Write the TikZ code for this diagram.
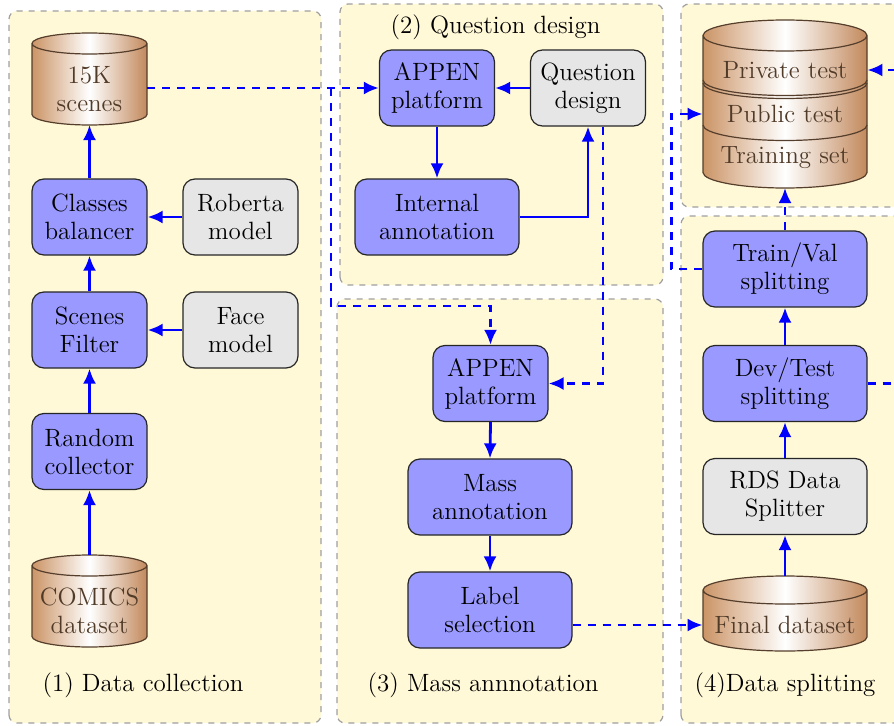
\documentclass[tikz,border=0pt]{standalone}
\usetikzlibrary{arrows.meta,calc}

\definecolor{panelfill}{RGB}{255,249,215}
\definecolor{boxblue}{RGB}{153,153,255}
\definecolor{boxgray}{RGB}{230,230,230}
\definecolor{cylL}{RGB}{203,148,102}
\definecolor{cylR}{RGB}{194,137,92}
\definecolor{cyltextcol}{RGB}{80,58,40}
\definecolor{cylline}{RGB}{85,62,44}

% database drum: centre x, top y, bottom y, half width, ellipse y radius
\newcommand\dbdrum[5]{%
  \shade[left color=cylL,right color=cylR,middle color=white]
    ({#1-#4},{#2-#5}) -- ({#1-#4},{#3+#5})
    arc[start angle=180,end angle=360,x radius=#4,y radius=#5]
    -- ({#1+#4},{#2-#5})
    arc[start angle=0,end angle=180,x radius=#4,y radius=#5] -- cycle;
  \draw[cylline,line width=0.6pt]
    ({#1-#4},{#2-#5}) -- ({#1-#4},{#3+#5})
    arc[start angle=180,end angle=360,x radius=#4,y radius=#5]
    -- ({#1+#4},{#2-#5})
    arc[start angle=0,end angle=180,x radius=#4,y radius=#5]
    arc[start angle=180,end angle=360,x radius=#4,y radius=#5];
}
% front rim of a stacked section
\newcommand\drumrim[4]{% centre x, y, half width, ry
  \draw[cylline,line width=0.6pt] ({#1-#3},#2)
    arc[start angle=180,end angle=360,x radius=#3,y radius=#4];
}

\tikzset{
  panel/.style={draw=gray!75, fill=panelfill, line width=0.6pt,
    dash pattern=on 3pt off 3pt, rounded corners=4pt},
  bluebox/.style={draw=black!85, fill=boxblue, rounded corners=6pt,
    minimum width=57.5pt, minimum height=38pt, align=center,
    inner sep=1pt, line width=0.6pt},
  graybox/.style={bluebox, fill=boxgray},
  widebox/.style={minimum width=82pt},
  cyltext/.style={text=cyltextcol, align=center, inner sep=0pt},
  flow/.style={draw=blue, line width=1.4pt, -{Latex[length=7.5pt,width=6.5pt]}},
  dashflow/.style={flow, dash pattern=on 4pt off 3.5pt},
  every node/.style={font=\fontsize{12.5}{14}\selectfont}
}

\begin{document}
\begin{tikzpicture}[x=0.5pt,y=0.5pt]
\useasboundingbox (0,0) rectangle (894,725);
\clip (0,0) rectangle (894,725);

% stage panels
\path[panel] (9,2) rectangle (321,714);
\path[panel] (340,440) rectangle (663,721);
\path[panel] (337,2) rectangle (663,426);
\path[panel] (681,518) rectangle (1000,721);
\path[panel] (681,2) rectangle (1000,509);

% (1) data collection
\dbdrum{89.5}{692}{600}{57.5}{10.5}
\node[cyltext, minimum width=57.5pt] (scenes) at (89.5,636) {15K\\scenes};
\coordinate (scenes-bot) at (89.5,600);
\node[bluebox] (classes) at (89.5,508) {Classes\\balancer};
\node[graybox] (roberta) at (240.5,508) {Roberta\\model};
\node[bluebox] (filter) at (89.5,395) {Scenes\\Filter};
\node[graybox] (face) at (240.5,395) {Face\\model};
\node[bluebox] (random) at (89.5,273.5) {Random\\collector};
\dbdrum{89.5}{170}{78}{57.5}{10.5}
\node[cyltext, minimum width=57.5pt] (comics) at (89.5,114) {COMICS\\dataset};
\coordinate (comics-top) at (89.5,170);
\node (t1) at (143,40) {(1) Data collection};

% (2) question design
\node (t2) at (495.5,698) {(2) Question design};
\node[bluebox] (appen) at (437,637) {APPEN\\platform};
\node[graybox] (qd) at (588,637) {Question\\design};
\node[bluebox,widebox] (internal) at (437,508) {Internal\\annotation};

% (3) mass annotation
\node[bluebox] (appen2) at (490.5,341.5) {APPEN\\platform};
\node[bluebox,widebox] (mass) at (490,228) {Mass\\annotation};
\node[bluebox,widebox] (labelsel) at (490,115) {Label\\selection};
\node (t3) at (483,40) {(3) Mass annnotation};

% (4) data splitting
\dbdrum{785}{705}{537}{82}{15.5}
\drumrim{785}{645}{82}{15.5}
\drumrim{785}{642}{82}{15.5}
\drumrim{785}{600}{82}{15.5}
\node[cyltext, minimum width=82pt] (priv) at (785,655) {Private test};
\node[cyltext, minimum width=82pt] (pub) at (785,611) {Public test};
\node[cyltext, minimum width=82pt] (trn) at (785,567) {Training set};
\coordinate (splits-bot) at (785,537);
\node[bluebox,widebox] (tv) at (785,456) {Train/Val\\splitting};
\node[bluebox,widebox] (dev) at (785,341.5) {Dev/Test\\splitting};
\node[graybox,widebox] (rds) at (785,228.5) {RDS Data\\Splitter};
\dbdrum{785}{149}{74}{82}{14}
\node[cyltext, minimum width=82pt] (fin) at (785,100) {Final dataset};
\coordinate (fin-top) at (785,149);
\node (t4) at (785,40) {(4)Data splitting};

% solid flows
\draw[flow] (comics-top) -- (random.south);
\draw[flow] (random.north) -- (filter.south);
\draw[flow] (filter.north) -- (classes.south);
\draw[flow] (classes.north) -- (scenes-bot);
\draw[flow] (face.west) -- (filter.east);
\draw[flow] (roberta.west) -- (classes.east);
\draw[flow] (qd.west) -- (appen.east);
\draw[flow] (appen.south) -- (internal.north);
\draw[flow] (internal.east) -| (qd.south);
\draw[flow] (appen2.south) -- (mass.north);
\draw[flow] (mass.south) -- (labelsel.north);
\draw[flow] (fin-top) -- (rds.south);
\draw[flow] (rds.north) -- (dev.south);
\draw[flow] (dev.north) -- (tv.south);

% dashed flows
\draw[dashflow] (scenes.east |- appen.west) -- (appen.west);
\draw[dashflow] (331,637) |- ($(appen2.north)+(0,39)$) -- (appen2.north);
\draw[dashflow] ([xshift=7.5pt]qd.south) |- (appen2.east);
\draw[dashflow] (labelsel.east |- fin.west) -- (fin.west);
\draw[dashflow] (tv.north) -- (splits-bot);
\draw[dashflow] (tv.west) -- ++(-31,0) |- (pub.west);
\draw[dashflow] (dev.east) -- ++(60,0) |- (priv.east);
\end{tikzpicture}
\end{document}
